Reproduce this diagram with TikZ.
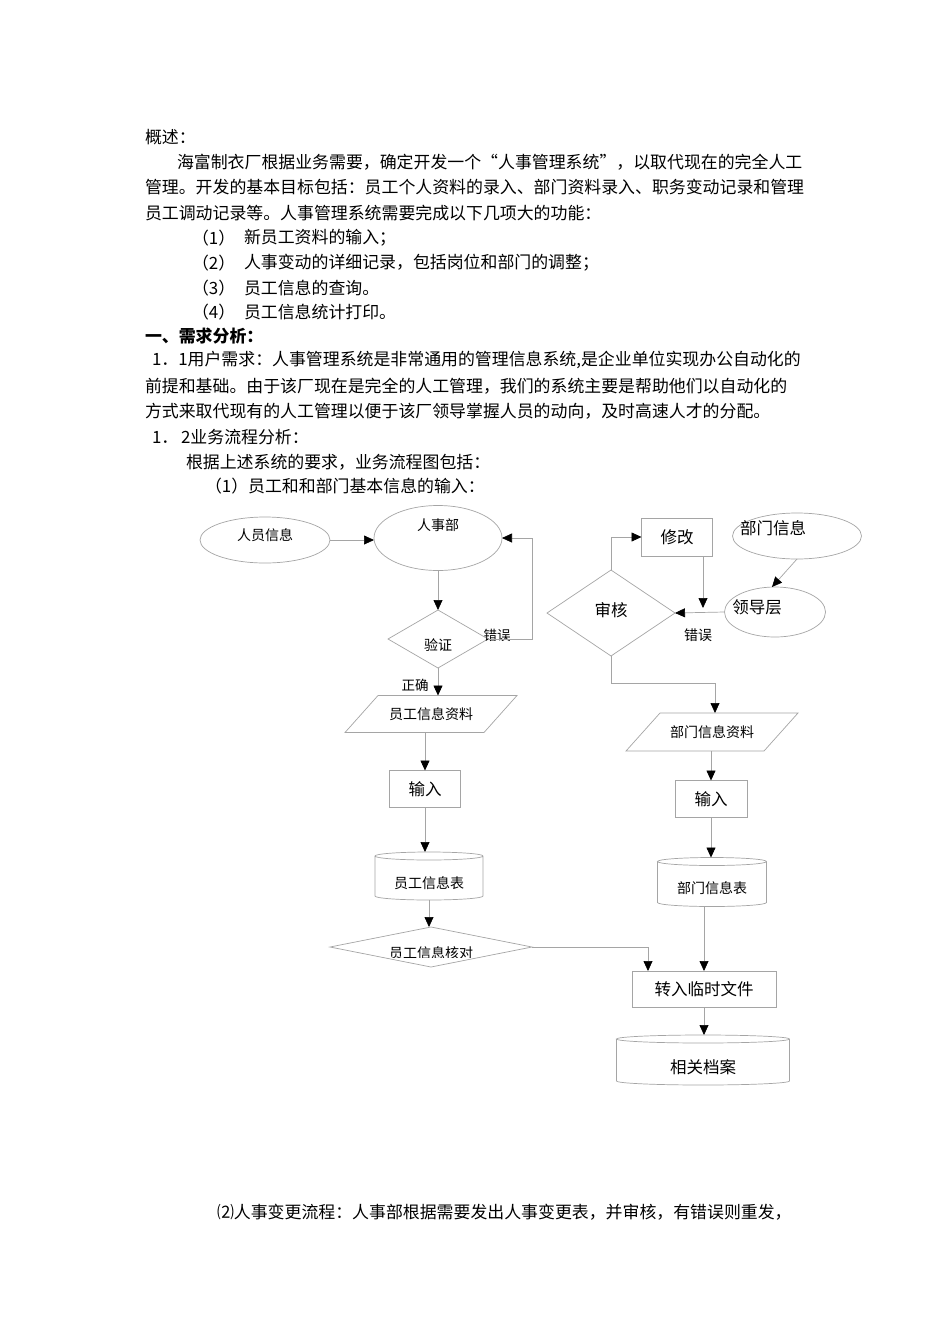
\documentclass[tikz,border=0pt]{standalone}
\usepackage{fontspec}
\newfontfamily\cjk{Noto Sans CJK SC}
\usetikzlibrary{shapes.geometric,arrows.meta,calc}
\definecolor{lg}{RGB}{165,165,165}
\newcommand\cylout[2]{\draw[shp] ($(#1.north west)+(0,4)$) -- ($(#1.south west)+(0,-4)$) arc[start angle=180,end angle=360,x radius=#2pt,y radius=4pt] -- ($(#1.north east)+(0,4)$) arc[start angle=0,end angle=360,x radius=#2pt,y radius=4pt];}
\begin{document}
\begin{tikzpicture}[x=1pt,y=-1pt,
  every node/.style={font=\cjk, inner sep=0pt, outer sep=0pt},
  shp/.style={draw=lg, line width=0.7pt},
  arr/.style={draw=lg, line width=0.7pt, -{Triangle[length=10pt,width=9pt,color=black]}},
  txt/.style={anchor=west, font=\cjk\fontsize{16.9}{20}\selectfont},
  s13/.style={font=\cjk\fontsize{13.5}{15}\selectfont},
  s14/.style={font=\cjk\fontsize{14}{16}\selectfont},
  s16/.style={font=\cjk\fontsize{16.5}{18}\selectfont},
  ell/.style={shp, ellipse},
  box/.style={shp, rectangle},
  dia/.style={shp, diamond}
]
\fill[white] (0,0) rectangle (950,1344);
\useasboundingbox (0,0) rectangle (950,1344);
% ---------- body text ----------
\node[txt] (p0) at (145,137) {概述：};
\node[txt] (p1) at (177,162) {海富制衣厂根据业务需要，确定开发一个“人事管理系统”，以取代现在的完全人工};
\node[txt] (p2) at (145,187) {管理。开发的基本目标包括：员工个人资料的录入、部门资料录入、职务变动记录和管理};
\node[txt] (p3) at (145,213) {员工调动记录等。人事管理系统需要完成以下几项大的功能：};
\node[txt] (n1) at (192,238) {（1）};
\node[txt] (l1) at (244,238) {新员工资料的输入；};
\node[txt] (n2) at (192,263) {（2）};
\node[txt] (l2) at (244,263) {人事变动的详细记录，包括岗位和部门的调整；};
\node[txt] (n3) at (192,288) {（3）};
\node[txt] (l3) at (244,288) {员工信息的查询。};
\node[txt] (n4) at (192,312) {（4）};
\node[txt] (l4) at (244,312) {员工信息统计打印。};
\node[txt, font=\cjk\bfseries\fontsize{16.9}{20}\selectfont] (h1) at (145,336) {一、需求分析：};
\node[txt] (q1) at (152,360) {1．1用户需求：人事管理系统是非常通用的管理信息系统,是企业单位实现办公自动化的};
\node[txt] (q2) at (145,386) {前提和基础。由于该厂现在是完全的人工管理，我们的系统主要是帮助他们以自动化的};
\node[txt] (q3) at (145,411) {方式来取代现有的人工管理以便于该厂领导掌握人员的动向，及时高速人才的分配。};
\node[txt] (q4) at (152,437) {1．\,2业务流程分析：};
\node[txt] (q5) at (186,462) {根据上述系统的要求，业务流程图包括：};
\node[txt] (q6) at (205,486) {（1）员工和和部门基本信息的输入：};
\node[txt] (q7) at (217,1212) {⑵人事变更流程：人事部根据需要发出人事变更表，并审核，有错误则重发，};
% ---------- left flow ----------
\node[ell, minimum width=130pt, minimum height=46pt] (ryxx) at (265,540) {};
\node[s14] (ryxxT) at (265,535) {人员信息};
\node[ell, minimum width=128pt, minimum height=65pt] (rsb) at (438,538) {};
\node[s14] (rsbT) at (438,525) {人事部};
\node[dia, minimum width=100pt, minimum height=58pt, aspect=1.72] (yz) at (438,639) {};
\node[s14] (yzT) at (438,645) {验证};
\node[s13] (cw1) at (497,635) {错误};
\node[s13] (zq) at (415,685) {正确};
\node[s14, minimum width=172pt, minimum height=37pt] (ygzl) at (431,714) {员工信息资料};
\draw[shp] ($(ygzl.north west)+(33,0)$) -- (ygzl.north east) -- ($(ygzl.south east)+(-33,0)$) -- (ygzl.south west) -- cycle;
\node[box, s16, minimum width=71pt, minimum height=37pt] (sr1) at (425,789) {输入};
\node[minimum width=108pt, minimum height=48pt] (yb1) at (429,876) {};
\cylout{yb1}{54}
\node[s14] (yb1T) at (429,883) {员工信息表};
\node[dia, minimum width=202pt, minimum height=40pt, aspect=5] (hd) at (431,947) {};
\begin{scope}
\clip (320,930) rectangle (540,957.5);
\node[s14] (hdT) at (431,953) {员工信息核对};
\end{scope}
% ---------- right flow ----------
\node[box, s16, minimum width=71pt, minimum height=38pt] (xg) at (677,537) {修改};
\node[ell, minimum width=129pt, minimum height=46pt] (bmxx) at (797,536) {};
\node[s16] (bmxxT) at (773,528) {部门信息};
\node[ell, minimum width=101pt, minimum height=50pt] (ldc) at (775,612) {};
\node[s16] (ldcT) at (757,607) {领导层};
\node[dia, minimum width=128pt, minimum height=86pt, aspect=1.49] (sh) at (611,613) {};
\node[s16] (shT) at (611,610) {审核};
\node[s14] (cw2) at (698,635) {错误};
\coordinate (j1) at (703,613);
\node[s14, minimum width=172pt, minimum height=38pt] (bmzl) at (712,732) {部门信息资料};
\draw[shp] ($(bmzl.north west)+(34,0)$) -- (bmzl.north east) -- ($(bmzl.south east)+(-34,0)$) -- (bmzl.south west) -- cycle;
\node[box, s16, minimum width=72pt, minimum height=37pt] (sr2) at (711,799) {输入};
\node[minimum width=109pt, minimum height=49pt] (bb2) at (712,882) {};
\cylout{bb2}{54.5}
\node[s14] (bb2T) at (712,888) {部门信息表};
\node[box, s16, minimum width=144pt, minimum height=36pt] (zr) at (704,989) {转入临时文件};
\node[minimum width=173pt, minimum height=50pt] (xgda) at (703,1060) {};
\cylout{xgda}{86.5}
\node[s16] (xgdaT) at (703,1067) {相关档案};
% ---------- connectors ----------
\draw[arr] (ryxx.east) -- (ryxx.east -| rsb.west);
\draw[arr] (rsb.south) -- (yz.north);
\draw[arr] (yz.east) -- ++(44,0) |- (rsb.east);
\draw[arr] (yz.south) -- (yz.south |- ygzl.north);
\draw[arr] (sr1.north |- ygzl.south) -- (sr1.north);
\draw[arr] (sr1.south) -- (sr1.south |- yb1.north);
\draw[arr] (yb1.south) -- (yb1.south |- hd.north);
\draw[arr] (hd.east) -| ($(zr.north west)+(16,0)$);
\draw[arr] (bmxx.south) -- ($(ldc.north)+(-3,0)$);
\draw[arr] (j1 |- xg.south) -- ($(j1)+(0,-5)$);
\draw[arr] (ldc.west) -- (sh.east);
\draw[arr] (sh.north) |- (xg.west);
\draw[arr] (sh.south) |- ($(bmzl.north)+(3,-30)$) -- ($(bmzl.north)+(3,0)$);
\draw[arr] (sr2.north |- bmzl.south) -- (sr2.north);
\draw[arr] (sr2.south) -- (sr2.south |- bb2.north);
\draw[arr] (zr.north |- bb2.south) -- (zr.north);
\draw[arr] (zr.south) -- (zr.south |- xgda.north);
\end{tikzpicture}
\end{document}
